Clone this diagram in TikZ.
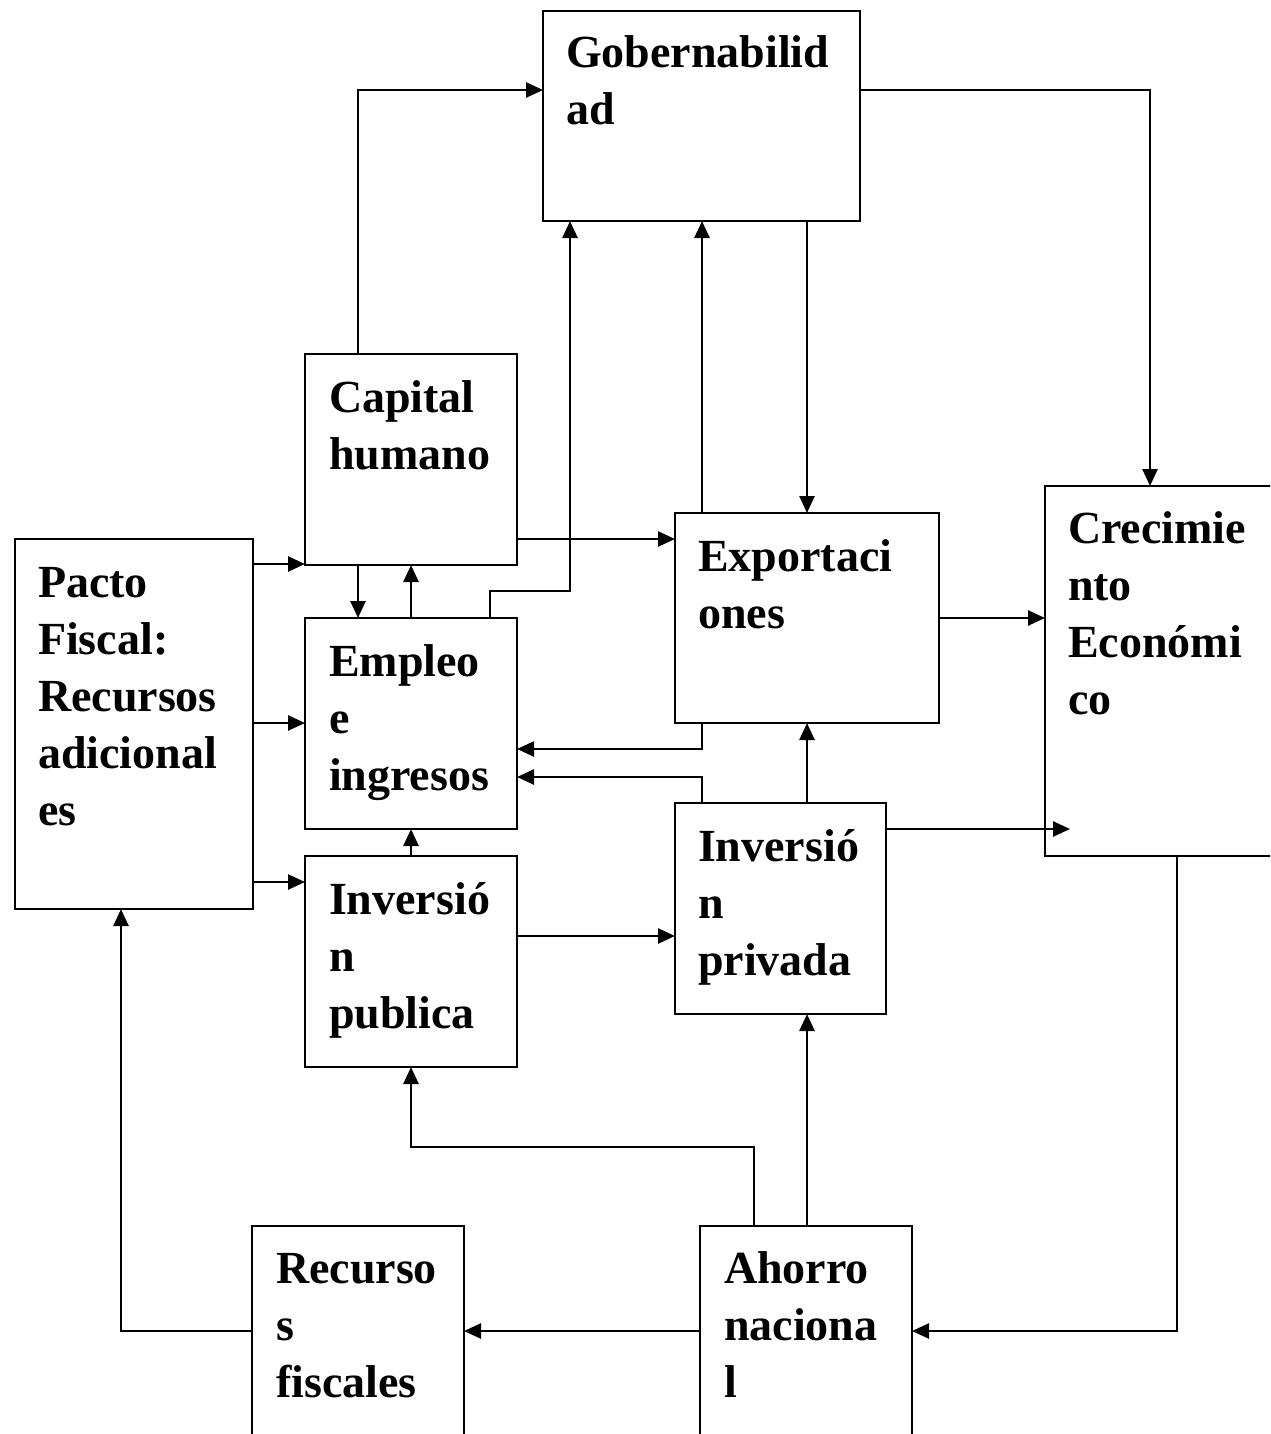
\documentclass[tikz,border=0pt]{standalone}
\usepackage{fontspec}
\setmainfont{Liberation Serif}
\usetikzlibrary{arrows.meta}
\begin{document}
\begin{tikzpicture}[x=1pt,y=-1pt,
  box/.style={draw=black, line width=2.6pt, rectangle, anchor=north west, outer sep=0pt, inner sep=0pt},
  lbl/.style={anchor=base west, align=left, inner sep=0pt, outer sep=0pt,
    font=\bfseries\fontsize{46}{57}\selectfont},
  arr/.style={line width=2.6pt, -{Triangle[length=17pt,width=15pt]}},
  ln/.style={line width=2.6pt}]
\useasboundingbox (0,0) rectangle (1270,1434);
\fill[white] (0,0) rectangle (1270,1434);
\begin{scope}
\clip (0,0) rectangle (1270,1434);
% boxes
\node[box, minimum width=317pt, minimum height=210pt] (gob) at (543,11) {};
\node[box, minimum width=212pt, minimum height=211pt] (cap) at (305,354) {};
\node[box, minimum width=212pt, minimum height=211pt] (emp) at (305,618) {};
\node[box, minimum width=212pt, minimum height=211pt] (invpub) at (305,856) {};
\node[box, minimum width=238pt, minimum height=370pt] (pacto) at (15,539) {};
\node[box, minimum width=264pt, minimum height=210pt] (exp) at (675,513) {};
\node[box, minimum width=211pt, minimum height=211pt] (invpriv) at (675,803) {};
\node[box, minimum width=265pt, minimum height=370pt] (crec) at (1045,486) {};
\node[box, minimum width=212pt, minimum height=260pt] (rec) at (252,1226) {};
\node[box, minimum width=212pt, minimum height=260pt] (aho) at (700,1226) {};
% labels (anchor = baseline of last line)
\node[lbl] (gobt) at ([xshift=23pt,yshift=-114pt]gob.north west) {Gobernabilid\\ad};
\node[lbl] (capt) at ([xshift=24pt,yshift=-115pt]cap.north west) {Capital\\humano};
\node[lbl] (empt) at ([xshift=24pt,yshift=-172pt]emp.north west) {Empleo\\e\\ingresos};
\node[lbl] (invpubt) at ([xshift=24pt,yshift=-172pt]invpub.north west) {Inversió\\n\\publica};
\node[lbl] (pactot) at ([xshift=23pt,yshift=-286pt]pacto.north west) {Pacto\\Fiscal:\\Recursos\\adicional\\es};
\node[lbl] (expt) at ([xshift=23pt,yshift=-115pt]exp.north west) {Exportaci\\ones};
\node[lbl] (invprivt) at ([xshift=23pt,yshift=-172pt]invpriv.north west) {Inversió\\n\\privada};
\node[lbl] (crect) at ([xshift=23pt,yshift=-228pt]crec.north west) {Crecimie\\nto\\Económi\\co};
\node[lbl] (rect) at ([xshift=24pt,yshift=-171pt]rec.north west) {Recurso\\s\\fiscales};
\node[lbl] (ahot) at ([xshift=24pt,yshift=-171pt]aho.north west) {Ahorro\\naciona\\l};
\coordinate (tip) at (1070,829);
% connectors
\draw[arr] (pacto.east |- 0,564) -- (cap.west |- 0,564);
\draw[arr] (pacto.east |- 0,723) -- (emp.west |- 0,723);
\draw[arr] (pacto.east |- 0,882) -- (invpub.west |- 0,882);
\draw[arr] (cap.north -| 358,0) |- (gob.west |- 0,90);
\draw[arr] (cap.east |- 0,539) -- (exp.west |- 0,539);
\draw[arr] (cap.south -| 358,0) -- (emp.north -| 358,0);
\draw[arr] (emp.north) -- (cap.south);
\draw[arr] (invpub.north) -- (emp.south);
\draw[arr] (emp.north -| 490,0) |- (570,591) -- (gob.south -| 570,0);
\draw[arr] (exp.north -| 702,0) -- (gob.south -| 702,0);
\draw[arr] (gob.south -| 807,0) -- (exp.north -| 807,0);
\draw[arr] (gob.east |- 0,90) -| (crec.north -| 1150,0);
\draw[arr] (exp.east |- 0,618) -- (crec.west |- 0,618);
\draw[arr] (exp.south -| 702,0) |- (emp.east |- 0,749);
\draw[arr] (invpriv.north -| 702,0) |- (emp.east |- 0,777);
\draw[arr] (invpriv.north -| 807,0) -- (exp.south -| 807,0);
\draw[arr] (invpriv.east |- 0,829) -- (tip);
\draw[arr] (invpub.east |- 0,936) -- (invpriv.west |- 0,936);
\draw[arr] (aho.north -| 754,0) |- (invpub.south |- 0,1147) -- (invpub.south);
\draw[arr] (aho.north -| 807,0) -- (invpriv.south -| 807,0);
\draw[arr] (aho.west |- 0,1331) -- (rec.east |- 0,1331);
\draw[arr] (crec.south -| 1177,0) |- (aho.east |- 0,1331);
\draw[arr] (rec.west |- 0,1331) -| (pacto.south -| 121,0);
\end{scope}
\end{tikzpicture}
\end{document}
